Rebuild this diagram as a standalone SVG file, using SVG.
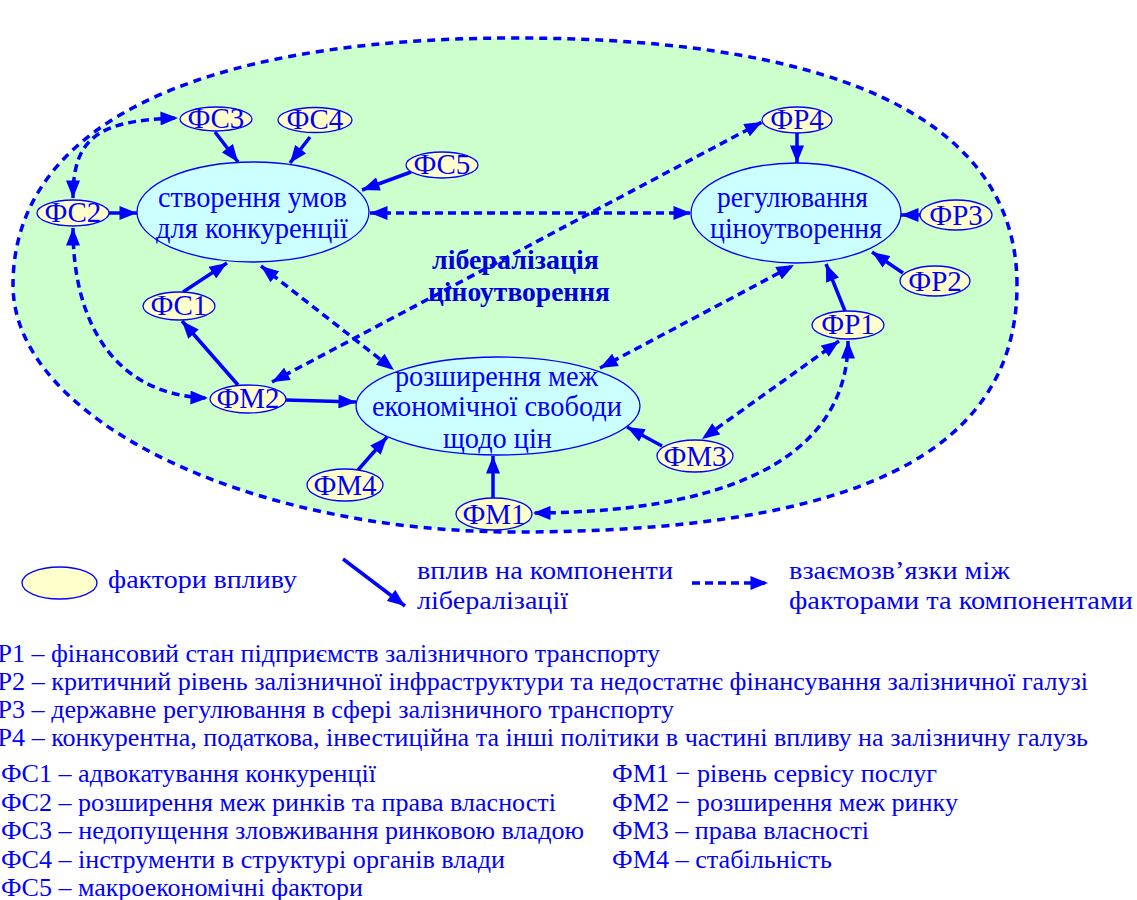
<svg xmlns="http://www.w3.org/2000/svg" width="1137" height="900" viewBox="0 0 1137 900">
<defs>
<style>
.t{font-family:"Liberation Serif","Times New Roman",serif;fill:#0000ff}
.f{font-size:29px;text-anchor:middle}
.c{font-size:29px}
.b{font-size:27px;font-weight:bold;fill:#0000dd}
.l{font-size:26px}
.n{font-size:26px}
.fac{fill:#ffffcc;stroke:#0000ff;stroke-width:1.3}
.comp{fill:#ccffff;stroke:#0000ff;stroke-width:1.3}
.sol{fill:none;stroke:#0000ff;stroke-width:3.5;marker-end:url(#ah)}
.das{fill:none;stroke:#0000ff;stroke-width:3.5;stroke-dasharray:8 5;marker-start:url(#ah);marker-end:url(#ah)}
</style>
<marker id="ah" viewBox="0 0 10 8" refX="10" refY="4" markerWidth="18" markerHeight="14" markerUnits="userSpaceOnUse" orient="auto-start-reverse"><path d="M0,0 L10,4 L0,8 z" fill="#0000ff"/></marker>
</defs>
<rect width="1137" height="900" fill="#ffffff"/>
<g id="outer">
<path d="M1017,285 C1017,130 858,38 515,38 C188,38 13,130 13,285 C13,420 250,532 515,532 C858,532 1017,452 1017,285 Z" fill="#ccffcc" stroke="#0000ff" stroke-width="3.5" stroke-dasharray="8 6"/>
</g>
<g id="title">
<text class="t b" x="432" y="269" textLength="167" lengthAdjust="spacingAndGlyphs">лібералізація</text>
<text class="t b" x="428" y="301" textLength="182" lengthAdjust="spacingAndGlyphs">ціноутворення</text>
</g>
<g id="connectors">
<path class="sol" d="M215,132 L238,162"/>
<path class="sol" d="M310,137 L290,163"/>
<path class="sol" d="M411,172 L362,190"/>
<path class="sol" d="M109,213 L137,213"/>
<path class="sol" d="M183,292 L227,263"/>
<path class="sol" d="M238,385 L182,321"/>
<path class="sol" d="M286,400 L356,402"/>
<path class="sol" d="M358,470 L387,437"/>
<path class="sol" d="M493,498 L493,456"/>
<path class="sol" d="M662,446 L627,427"/>
<path class="sol" d="M797,133 L797,163"/>
<path class="sol" d="M920,215 L901,215"/>
<path class="sol" d="M903,273 L872,252"/>
<path class="sol" d="M845,311 L826,264"/>
<path class="das" d="M73,198 C73,140 95,120 178,118"/>
<path class="das" d="M73,228 C73,330 120,396 208,398"/>
<path class="das" d="M370,213 L691,213"/>
<path class="das" d="M261,266 L394,370"/>
<path class="das" d="M272,382 L762,122"/>
<path class="das" d="M600,368 L794,265"/>
<path class="das" d="M839,341 L702,439"/>
<path class="das" d="M848,341 C848,440 760,512 533,513"/>
</g>
<g id="comp1"><ellipse class="comp" cx="253" cy="212" rx="116" ry="50"/>
<text class="t c" x="158" y="207" textLength="189" lengthAdjust="spacingAndGlyphs">створення умов</text>
<text class="t c" x="156" y="238" textLength="192" lengthAdjust="spacingAndGlyphs">для конкуренції</text></g>
<g id="comp2"><ellipse class="comp" cx="796" cy="213" rx="105" ry="50"/>
<text class="t c" x="717" y="207" textLength="151" lengthAdjust="spacingAndGlyphs">регулювання</text>
<text class="t c" x="710" y="238" textLength="172" lengthAdjust="spacingAndGlyphs">ціноутворення</text></g>
<g id="comp3"><ellipse class="comp" cx="498" cy="406" rx="142" ry="49"/>
<text class="t c" x="395" y="386" textLength="203" lengthAdjust="spacingAndGlyphs">розширення меж</text>
<text class="t c" x="372" y="416" textLength="250" lengthAdjust="spacingAndGlyphs">економічної свободи</text>
<text class="t c" x="443" y="448" textLength="109" lengthAdjust="spacingAndGlyphs">щодо цін</text></g>
<g id="FS3"><ellipse class="fac" cx="216" cy="119" rx="36" ry="12"/><text class="t f" x="216" y="128">ФС3</text></g>
<g id="FS4"><ellipse class="fac" cx="315" cy="120" rx="37" ry="12.5"/><text class="t f" x="315" y="129">ФС4</text></g>
<g id="FS5"><ellipse class="fac" cx="442" cy="165" rx="36" ry="13"/><text class="t f" x="442" y="174">ФС5</text></g>
<g id="FS2"><ellipse class="fac" cx="73" cy="213" rx="36" ry="13"/><text class="t f" x="73" y="222">ФС2</text></g>
<g id="FS1"><ellipse class="fac" cx="179" cy="306" rx="36" ry="14"/><text class="t f" x="179" y="315">ФС1</text></g>
<g id="FM2"><ellipse class="fac" cx="248" cy="399" rx="38" ry="14"/><text class="t f" x="248" y="408">ФМ2</text></g>
<g id="FR4"><ellipse class="fac" cx="797" cy="120" rx="35" ry="13"/><text class="t f" x="797" y="129">ФР4</text></g>
<g id="FR3"><ellipse class="fac" cx="956" cy="215" rx="36" ry="15"/><text class="t f" x="956" y="225">ФР3</text></g>
<g id="FR2"><ellipse class="fac" cx="935" cy="281" rx="35" ry="15"/><text class="t f" x="935" y="291">ФР2</text></g>
<g id="FR1"><ellipse class="fac" cx="848" cy="325" rx="36" ry="14"/><text class="t f" x="848" y="334">ФР1</text></g>
<g id="FM3"><ellipse class="fac" cx="695" cy="456" rx="38" ry="16"/><text class="t f" x="695" y="466">ФМ3</text></g>
<g id="FM4"><ellipse class="fac" cx="345" cy="485" rx="38" ry="16"/><text class="t f" x="345" y="495">ФМ4</text></g>
<g id="FM1"><ellipse class="fac" cx="494" cy="514" rx="38" ry="16"/><text class="t f" x="494" y="524">ФМ1</text></g>
<g id="legend">
<ellipse class="fac" cx="59.5" cy="583" rx="37.5" ry="16"/>
<text class="t l" x="108" y="588" textLength="189" lengthAdjust="spacingAndGlyphs">фактори впливу</text>
<path class="sol" d="M343,559 L405,606"/>
<text class="t l" x="417" y="579" textLength="256" lengthAdjust="spacingAndGlyphs">вплив на компоненти</text>
<text class="t l" x="417" y="609" textLength="151" lengthAdjust="spacingAndGlyphs">лібералізації</text>
<path d="M692,583 L768,583" fill="none" stroke="#0000ff" stroke-width="3.5" stroke-dasharray="8 5" marker-end="url(#ah)"/>
<text class="t l" x="789" y="579" textLength="221" lengthAdjust="spacingAndGlyphs">взаємозв’язки між</text>
<text class="t l" x="789" y="609" textLength="344" lengthAdjust="spacingAndGlyphs">факторами та компонентами</text>
</g>
<g id="notes">
<text class="t n" x="-23" y="662" textLength="683" lengthAdjust="spacingAndGlyphs">ФР1 – фінансовий стан підприємств залізничного транспорту</text>
<text class="t n" x="-23" y="690" textLength="1111" lengthAdjust="spacingAndGlyphs">ФР2 – критичний рівень залізничної інфраструктури та недостатнє фінансування залізничної галузі</text>
<text class="t n" x="-23" y="718" textLength="697" lengthAdjust="spacingAndGlyphs">ФР3 – державне регулювання в сфері залізничного транспорту</text>
<text class="t n" x="-23" y="746" textLength="1111" lengthAdjust="spacingAndGlyphs">ФР4 – конкурентна, податкова, інвестиційна та інші політики в частині впливу на залізничну галузь</text>
<text class="t n" x="1" y="782" textLength="375" lengthAdjust="spacingAndGlyphs">ФС1 – адвокатування конкуренції</text>
<text class="t n" x="1" y="811" textLength="555" lengthAdjust="spacingAndGlyphs">ФС2 – розширення меж ринків та права власності</text>
<text class="t n" x="1" y="839" textLength="583" lengthAdjust="spacingAndGlyphs">ФС3 – недопущення зловживання ринковою владою</text>
<text class="t n" x="1" y="868" textLength="504" lengthAdjust="spacingAndGlyphs">ФС4 – інструменти в структурі органів влади</text>
<text class="t n" x="1" y="896" textLength="362" lengthAdjust="spacingAndGlyphs">ФС5 – макроекономічні фактори</text>
<text class="t n" x="612" y="782" textLength="325" lengthAdjust="spacingAndGlyphs">ФМ1 − рівень сервісу послуг</text>
<text class="t n" x="612" y="811" textLength="346" lengthAdjust="spacingAndGlyphs">ФМ2 − розширення меж ринку</text>
<text class="t n" x="612" y="839" textLength="257" lengthAdjust="spacingAndGlyphs">ФМ3 – права власності</text>
<text class="t n" x="612" y="868" textLength="220" lengthAdjust="spacingAndGlyphs">ФМ4 – стабільність</text>
</g>
</svg>
